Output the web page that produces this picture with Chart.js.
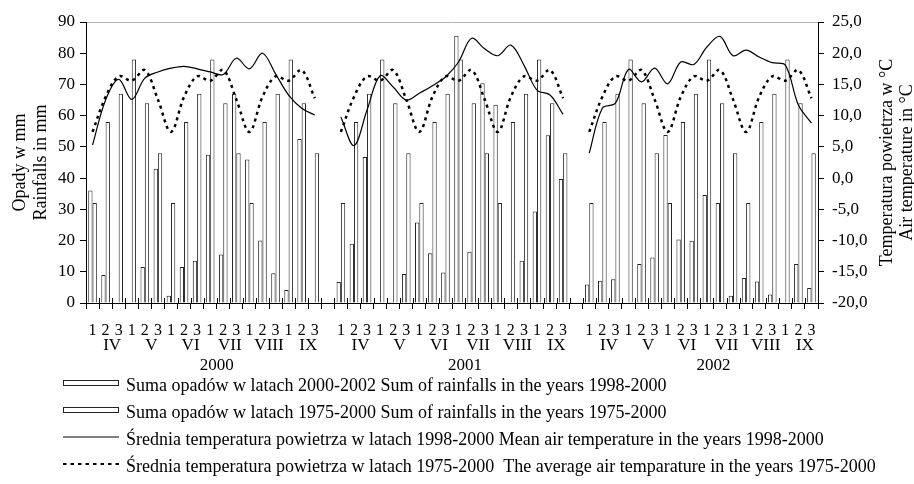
<!DOCTYPE html>
<html>
<head>
<meta charset="utf-8">
<script src="https://cdn.jsdelivr.net/npm/chart.js@4.4.1/dist/chart.umd.min.js"></script>
<style>
  html, body { margin: 0; padding: 0; background: #fff; }
  #wrap { width: 914px; height: 484px; position: relative; }
</style>
</head>
<body>
<div id="wrap"><canvas id="chart"></canvas></div>
<script>
// x axis: decades of each month, months, years
const decades = ['1', '2', '3'];
const months = ['IV', 'V', 'VI', 'VII', 'VIII', 'IX'];
const years = ['2000', '2001', '2002'];

// rainfall per decade in mm (first bar of each pair)
const rain2000 = [36, 9, 0, 0, 11.5, 43, 2.3, 11.5, 13.5, 47.5, 15.5, 67, 46, 20, 9.5, 4.2, 52.5, 0];
const rain2001 = [6.7, 19, 46.8, 0, 0.3, 9.3, 25.8, 15.9, 9.8, 85.6, 16.4, 70.4, 63.5, 0, 13.5, 29.3, 53.7, 39.7];
const rain2002 = [5.9, 7.1, 7.6, 0, 12.5, 14.6, 53.8, 20.3, 19.9, 34.6, 32, 2.3, 8, 6.9, 2.7, 0, 12.5, 4.8];
// long-term rainfall 1975-2000 (second bar), the picture shows the same bars every year
const rainLongTerm = [32, 58, 67, 78, 64, 48, 32, 58, 67, 78, 64, 48, 32, 58, 67, 78, 64, 48];

// air temperature per decade in °C
const temp2000 = [5.3, 12.5, 15.8, 12.6, 16.0, 17.0, 17.6, 17.9, 17.5, 17.0, 16.6, 19.2, 17.5, 20.0, 16.7, 13.3, 11.2, 10.1];
const temp2001 = [9.8, 5.2, 10.9, 16.4, 14.6, 12.5, 13.6, 14.8, 16.2, 18.6, 22.4, 20.7, 19.6, 21.3, 18.1, 14.1, 13.3, 10.2];
const temp2002 = [4.0, 11.2, 12.0, 17.4, 15.4, 17.6, 15.1, 18.6, 18.2, 21.0, 22.7, 19.6, 20.5, 19.4, 18.5, 18.1, 11.7, 8.8];
const tempLongTerm = [7.4, 13.0, 16.3, 15.6, 17.3, 12.6, 7.4, 13.0, 16.3, 15.6, 17.3, 12.6, 7.4, 13.0, 16.3, 15.6, 17.3, 12.8];

const seriesNames = [
  'Suma opadów w latach 2000-2002 Sum of rainfalls in the years 1998-2000',
  'Suma opadów w latach 1975-2000 Sum of rainfalls in the years 1975-2000',
  'Średnia temperatura powietrza w latach 1998-2000 Mean air temperature in the years 1998-2000',
  'Średnia temperatura powietrza w latach 1975-2000  The average air temparature in the years 1975-2000'
];
const leftTitle = ['Opady w mm', 'Rainfalls in mm'];
const rightTitle = ['Temperatura powietrza w °C', 'Air temperature in °C'];

const SERIF = '"Liberation Serif", "Times New Roman", serif';
Chart.defaults.font.family = SERIF;
Chart.defaults.color = '#000';

// one empty category between the years
function joinYears(a, b, c) {
  return [...a, null, ...b, null, ...c];
}
const labels = [];
years.forEach((y, i) => {
  if (i > 0) labels.push('');
  months.forEach(() => decades.forEach(d => labels.push(d)));
});
const perYear = months.length * decades.length + 1;

// month/year rows, short upper ticks, right title and legend
const extras = {
  id: 'extras',
  afterDraw(chart) {
    const { ctx, chartArea } = chart;
    const x = chart.scales.x;
    ctx.save();
    ctx.strokeStyle = '#000';
    ctx.lineWidth = 1;
    for (let i = 0; i <= labels.length; i++) {
      const px = Math.round(x.getPixelForValue(i - 0.5)) + 0.5;
      ctx.beginPath();
      ctx.moveTo(px, chartArea.bottom);
      ctx.lineTo(px, chartArea.bottom - 5);
      ctx.stroke();
    }

    ctx.fillStyle = '#000';
    ctx.textAlign = 'center';
    ctx.textBaseline = 'middle';
    ctx.font = '17px ' + SERIF;
    years.forEach((yr, yi) => {
      const start = yi * perYear;
      months.forEach((m, mi) => {
        ctx.fillText(m, x.getPixelForValue(start + mi * 3 + 1.5), 346);
      });
      ctx.fillText(yr, x.getPixelForValue(start + 9.5), 366);
    });

    // right axis title, read bottom to top
    ctx.font = '18px ' + SERIF;
    const midY = (chartArea.top + chartArea.bottom) / 2;
    rightTitle.forEach((t, i) => {
      ctx.save();
      ctx.translate(887 + i * 20, midY);
      ctx.rotate(-Math.PI / 2);
      ctx.fillText(t, 0, 0);
      ctx.restore();
    });

    // legend, one entry per row
    ctx.textAlign = 'left';
    chart.data.datasets.forEach((ds, i) => {
      const cy = 386 + i * 27;
      const sy = cy - 3;
      if (ds.type === 'line') {
        ctx.strokeStyle = '#000';
        ctx.lineWidth = i === 3 ? 2 : 1;
        ctx.setLineDash(i === 3 ? [3.5, 4] : []);
        ctx.beginPath();
        ctx.moveTo(63, sy);
        ctx.lineTo(119, sy);
        ctx.stroke();
        ctx.setLineDash([]);
      } else {
        ctx.fillStyle = '#fff';
        ctx.strokeStyle = '#222';
        ctx.lineWidth = 1;
        ctx.fillRect(63, sy - 2, 56, 5);
        ctx.strokeRect(63.5, sy - 2.5, 55, 5);
      }
      ctx.fillStyle = '#000';
      ctx.fillText(ds.label, 126, cy);
    });
    ctx.restore();
  }
};

const barStyle = {
  backgroundColor: '#fff',
  borderColor: '#222',
  borderWidth: 1,
  categoryPercentage: 0.66,
  barPercentage: 1,
  yAxisID: 'y',
  order: 1
};

new Chart(document.getElementById('chart'), {
  type: 'bar',
  data: {
    labels: labels,
    datasets: [
      Object.assign({ label: seriesNames[0], data: joinYears(rain2000, rain2001, rain2002) }, barStyle),
      Object.assign({ label: seriesNames[1], data: joinYears(rainLongTerm, rainLongTerm, rainLongTerm) }, barStyle),
      {
        type: 'line',
        label: seriesNames[2],
        data: joinYears(temp2000, temp2001, temp2002),
        yAxisID: 'y1',
        borderColor: '#000',
        borderWidth: 1.2,
        pointRadius: 0,
        tension: 0.35,
        fill: false,
        order: 0
      },
      {
        type: 'line',
        label: seriesNames[3],
        data: joinYears(tempLongTerm, tempLongTerm, tempLongTerm),
        yAxisID: 'y1',
        borderColor: '#000',
        borderWidth: 2.5,
        borderDash: [3, 4],
        pointRadius: 0,
        tension: 0.35,
        fill: false,
        order: 0
      }
    ]
  },
  options: {
    responsive: true,
    maintainAspectRatio: false,
    animation: false,
    layout: { padding: { top: 22, left: 0, right: 0, bottom: 0 } },
    plugins: {
      legend: { display: false },
      tooltip: { enabled: false }
    },
    scales: {
      x: {
        offset: true,
        grid: { offset: true, drawOnChartArea: false, tickLength: 6, color: '#000', tickColor: '#000' },
        border: { color: '#000' },
        ticks: { autoSkip: false, maxRotation: 0, padding: 12, font: { size: 16 } },
        afterFit: s => { s.height = 181; }
      },
      y: {
        position: 'left',
        min: 0,
        max: 90,
        ticks: { stepSize: 10, padding: 5, font: { size: 17 } },
        grid: {
          color: c => (c.tick && c.tick.value === 90 ? '#b4b4b4' : 'rgba(0,0,0,0)'),
          tickColor: '#000',
          tickLength: 6
        },
        border: { color: '#000' },
        title: { display: true, text: leftTitle, font: { size: 18 }, padding: { top: 9, bottom: 0 } },
        afterFit: s => { s.width = 86; }
      },
      y1: {
        position: 'right',
        min: -20,
        max: 25,
        ticks: {
          stepSize: 5,
          padding: 8,
          font: { size: 17 },
          callback: v => v.toFixed(1).replace('.', ',')
        },
        grid: { drawOnChartArea: false, tickColor: '#000', tickLength: 6 },
        border: { color: '#000' },
        afterFit: s => { s.width = 96; }
      }
    }
  },
  plugins: [extras]
});
</script>
</body>
</html>
